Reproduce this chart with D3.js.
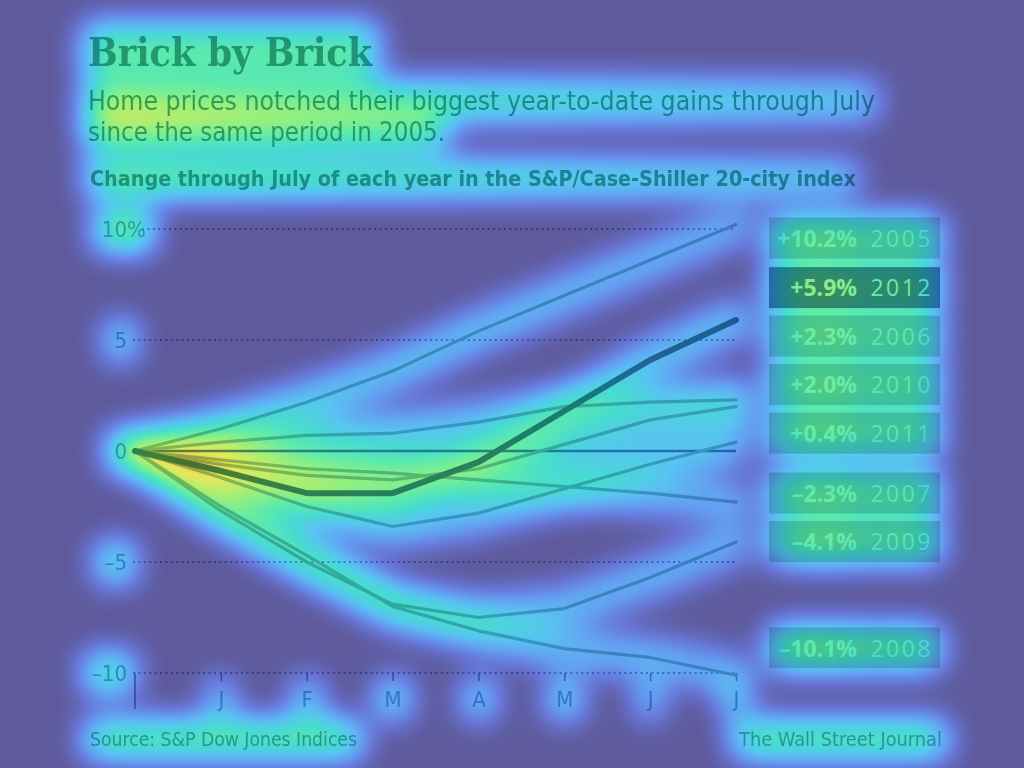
<!DOCTYPE html>
<html>
<head>
<meta charset="utf-8">
<script src="https://cdn.jsdelivr.net/npm/d3@7"></script>
<style>
html, body { margin: 0; padding: 0; background: #5e5a9c; }
svg { display: block; }
</style>
</head>
<body>
<svg id="chart" width="1024" height="768"></svg>
<script>
// values, change through July (%)
var months = ["", "J", "F", "M", "A", "M", "J", "J"];
var years = [2005, 2006, 2007, 2008, 2009, 2010, 2011, 2012];
var s2005 = [0, 1.0, 2.2, 3.6, 5.4, 7.0, 8.6, 10.2];
var s2006 = [0, 0.4, 0.7, 0.8, 1.3, 2.0, 2.2, 2.3];
var s2007 = [0, -0.4, -0.8, -1.0, -1.3, -1.6, -1.9, -2.3];
var s2008 = [0, -2.5, -4.7, -7.0, -8.1, -8.9, -9.3, -10.1];
var s2009 = [0, -2.7, -5.0, -6.9, -7.5, -7.1, -5.7, -4.1];
var s2010 = [0, -0.6, -1.1, -1.3, -0.8, 0.3, 1.4, 2.0];
var s2011 = [0, -1.2, -2.5, -3.4, -2.8, -1.7, -0.6, 0.4];
var s2012 = [0, -0.9, -1.9, -1.9, -0.5, 1.8, 4.1, 5.9];
var series = [s2005, s2006, s2007, s2008, s2009, s2010, s2011, s2012];
var yTicks = [10, 5, 0, -5, -10];
var highlightYear = 2012;

var W = 1024, H = 768;
var svg = d3.select("#chart");
var defs = svg.append("defs");

var x = d3.scaleLinear().domain([0, months.length - 1]).range([135, 736]);
var y = d3.scaleLinear().domain([-10, 10]).range([673, 229]);
var line = d3.line().x(function(d, i) { return x(i); }).y(function(d) { return y(d); });

// heat map overlay: white shapes -> blur -> colour ramp
var heat = defs.append("filter").attr("id", "heat")
    .attr("filterUnits", "userSpaceOnUse")
    .attr("x", 0).attr("y", 0).attr("width", W).attr("height", H)
    .attr("color-interpolation-filters", "sRGB");
heat.append("feGaussianBlur").attr("in", "SourceGraphic").attr("stdDeviation", 16);
heat.append("feColorMatrix").attr("type", "matrix")
    .attr("values", "0 0 0 1 0  0 0 0 1 0  0 0 0 1 0  0 0 0 0 1");
var ramp = ["#5e5a9c", "#6878d8", "#64a0f2", "#58c4f2", "#48dcd0", "#60eca8", "#a0f078", "#e8e858", "#f0a048"]
    .map(function(c) { return d3.rgb(c); });
var ct = heat.append("feComponentTransfer");
["R", "G", "B"].forEach(function(c, k) {
    ct.append("feFunc" + c).attr("type", "table")
        .attr("tableValues", ramp.map(function(r) { return ([r.r, r.g, r.b][k] / 255).toFixed(3); }).join(" "));
});

function fade(id, x1, x2, a1, a2) {
    var g = defs.append("linearGradient").attr("id", id)
        .attr("gradientUnits", "userSpaceOnUse")
        .attr("x1", x1).attr("x2", x2).attr("y1", 0).attr("y2", 0);
    g.append("stop").attr("offset", 0).attr("stop-color", "#fff").attr("stop-opacity", a1);
    g.append("stop").attr("offset", 1).attr("stop-color", "#fff").attr("stop-opacity", a2);
}
fade("fadeText", 88, 880, 1, 0.55);
fade("fadeLine", x(0), x(months.length - 1), 1, 0.7);

var heatG = svg.append("g").attr("filter", "url(#heat)");
heatG.append("rect").attr("width", W).attr("height", H).attr("fill", "#fff").attr("opacity", 0);
var ink = svg.append("g").style("mix-blend-mode", "multiply");

var hot = [];
var narrow = "Liberation Sans Narrow, DejaVu Sans Condensed, sans-serif";

// titles
var title = ink.append("text").attr("x", 88).attr("y", 66)
    .attr("font-family", "DejaVu Serif Condensed, DejaVu Serif, serif")
    .attr("font-weight", "bold").attr("font-size", 40)
    .attr("textLength", 284).attr("lengthAdjust", "spacingAndGlyphs")
    .attr("fill", "#5ea89c").text("Brick by Brick");
hot.push([title.node(), 0.63, 4]);

var sub1 = ink.append("text").attr("x", 88).attr("y", 110)
    .attr("font-family", narrow).attr("font-size", 26)
    .attr("textLength", 787).attr("lengthAdjust", "spacingAndGlyphs")
    .attr("fill", "#5aa8a0").text("Home prices notched their biggest year-to-date gains through July");
var sub2 = ink.append("text").attr("x", 88).attr("y", 141)
    .attr("font-family", narrow).attr("font-size", 26)
    .attr("textLength", 357).attr("lengthAdjust", "spacingAndGlyphs")
    .attr("fill", "#5aa8a0").text("since the same period in 2005.");
hot.push([sub1.node(), 0.82, 2, "url(#fadeText)"]);
hot.push([sub2.node(), 0.82, 2, "url(#fadeText)"]);

var subhead = ink.append("text").attr("x", 90).attr("y", 186)
    .attr("font-family", narrow).attr("font-weight", "bold").attr("font-size", 22)
    .attr("textLength", 766).attr("lengthAdjust", "spacingAndGlyphs")
    .attr("fill", "#5aa8a0").text("Change through July of each year in the S&P/Case-Shiller 20-city index");
hot.push([subhead.node(), 0.85, 2, "url(#fadeText)"]);

// grid + y labels
var grid = ink.append("g");
grid.selectAll("line").data(yTicks.filter(function(v) { return v !== 0; })).enter().append("line")
    .attr("x1", function(v) { return v === 10 ? x(0) + 7 : x(0) - 2; })
    .attr("x2", x(months.length - 1))
    .attr("y1", function(v) { return y(v); }).attr("y2", function(v) { return y(v); })
    .attr("stroke", "#8ca8d0").attr("stroke-width", 1.8).attr("stroke-dasharray", "2,3.4");

var yLab = ink.append("g").attr("font-family", narrow).attr("font-size", 22).attr("fill", "#8cb0d4");
yTicks.forEach(function(v) {
    var t = yLab.append("text").attr("x", 127).attr("y", y(v)).attr("dy", "0.36em")
        .attr("text-anchor", "end").text(v < 0 ? "\u2013" + Math.abs(v) : v);
    hot.push([t.node(), v === 10 ? 0.75 : 0.65, 6]);
    if (v === 10) {
        var p = yLab.append("text").attr("x", 127).attr("y", y(v)).attr("dy", "0.36em").text("%");
        hot.push([p.node(), 0.75, 6]);
    }
});

// x axis
var xAxis = d3.axisBottom(x).tickValues(d3.range(1, months.length))
    .tickFormat(function(i) { return months[i]; }).tickSize(8).tickPadding(10);
var xg = ink.append("g").attr("transform", "translate(0," + y(-10) + ")").call(xAxis);
xg.select(".domain").remove();
xg.selectAll("line").attr("stroke", "#7c9cc8").attr("stroke-width", 1.6);
xg.selectAll("text").attr("font-family", narrow).attr("font-size", 22).attr("fill", "#8cb0d4");
xg.append("line").attr("x1", x(0)).attr("x2", x(0)).attr("y1", 0).attr("y2", 36)
    .attr("stroke", "#7c9cc8").attr("stroke-width", 1.8);
xg.selectAll("text").each(function() { hot.push([this, 0.6, 6]); });

// zero line
ink.append("line").attr("x1", x(0)).attr("x2", x(months.length - 1))
    .attr("y1", y(0)).attr("y2", y(0)).attr("stroke", "#5f8fc0").attr("stroke-width", 2.5);

// series
var rows = years.map(function(yr, i) { return { year: yr, vals: series[i], end: series[i][series[i].length - 1] }; });
var lines = ink.append("g").attr("fill", "none").attr("stroke-linejoin", "round").attr("stroke-linecap", "round");
rows.filter(function(d) { return d.year !== highlightYear; }).concat(rows.filter(function(d) { return d.year === highlightYear; }))
    .forEach(function(d) {
        var hl = d.year === highlightYear;
        lines.append("path").attr("d", line(d.vals))
            .attr("stroke", hl ? "#4f8a9c" : "#a4c4cc").attr("stroke-width", hl ? 6 : 3.2);
        heatG.append("path").attr("d", line(d.vals)).attr("fill", "none")
            .attr("stroke", "url(#fadeLine)").attr("stroke-width", 34)
            .attr("stroke-linecap", "round").attr("opacity", hl ? 0.6 : 0.5);
    });
heatG.append("line").attr("x1", x(0)).attr("x2", x(months.length - 1))
    .attr("y1", y(0)).attr("y2", y(0)).attr("stroke", "url(#fadeLine)")
    .attr("stroke-width", 20).attr("opacity", 0.3);

// legend boxes near each line's end; gains pushed up, losses pushed down
var order = rows.slice().sort(function(a, b) { return b.end - a.end; });
var step = 48.5, boxH = 41, topY = y(10) + 9, botY = y(-10) - 25;
order.forEach(function(d) { d.ly = y(d.end) - 9; });
var gains = order.filter(function(d) { return d.end >= 0; });
var losses = order.filter(function(d) { return d.end < 0; });
var i;
for (i = gains.length - 2; i >= 0; i--) gains[i].ly = Math.min(gains[i].ly, gains[i + 1].ly - step);
gains[0].ly = Math.max(gains[0].ly, topY);
for (i = 1; i < gains.length; i++) gains[i].ly = Math.max(gains[i].ly, gains[i - 1].ly + step);
for (i = 1; i < losses.length; i++) losses[i].ly = Math.max(losses[i].ly, losses[i - 1].ly + step);
losses[losses.length - 1].ly = Math.min(losses[losses.length - 1].ly, botY);
for (i = losses.length - 2; i >= 0; i--) losses[i].ly = Math.min(losses[i].ly, losses[i + 1].ly - step);

var fmt = d3.format("+.1f");
var leg = ink.append("g").attr("font-family", "Open Sans, sans-serif").attr("font-size", 23);
order.forEach(function(d) {
    var hl = d.year === highlightYear;
    var g = leg.append("g").attr("transform", "translate(769," + (d.ly - boxH / 2) + ")");
    var r = g.append("rect").attr("width", 171).attr("height", boxH).attr("fill", hl ? "#6a94b0" : "#c0d8d4");
    var p = g.append("text").attr("x", 88).attr("y", 29).attr("text-anchor", "end")
        .attr("font-weight", "bold").attr("fill", "#fff")
        .text(fmt(d.end).replace("\u2212", "\u2013") + "%");
    var t = g.append("text").attr("x", 164).attr("y", 29).attr("text-anchor", "end")
        .attr("letter-spacing", 2.5).attr("fill", "#fff").text(d.year);
    hot.push([r.node(), hl ? 0.7 : 0.62, 0]);
    hot.push([p.node(), hl ? 0.5 : 0.42, 0]);
    hot.push([t.node(), 0.2, 0]);
});

// footer
var src = ink.append("text").attr("x", 90).attr("y", 746)
    .attr("font-family", narrow).attr("font-size", 20)
    .attr("textLength", 267).attr("lengthAdjust", "spacingAndGlyphs")
    .attr("fill", "#78b0b4").text("Source: S&P Dow Jones Indices");
var wsj = ink.append("text").attr("x", 942).attr("y", 746).attr("text-anchor", "end")
    .attr("font-family", narrow).attr("font-size", 20)
    .attr("textLength", 203).attr("lengthAdjust", "spacingAndGlyphs")
    .attr("fill", "#88acc8").text("The Wall Street Journal");
hot.push([src.node(), 0.75, 4]);
hot.push([wsj.node(), 0.75, 4]);

// heat blocks from the drawn elements' boxes
hot.forEach(function(h) {
    var b = h[0].getBoundingClientRect(), pad = h[2];
    heatG.append("rect")
        .attr("x", b.left - pad).attr("y", b.top - pad)
        .attr("width", b.width + 2 * pad).attr("height", b.height + 2 * pad)
        .attr("rx", 6).attr("fill", h[3] || "#fff").attr("opacity", h[1]);
});
</script>
</body>
</html>
